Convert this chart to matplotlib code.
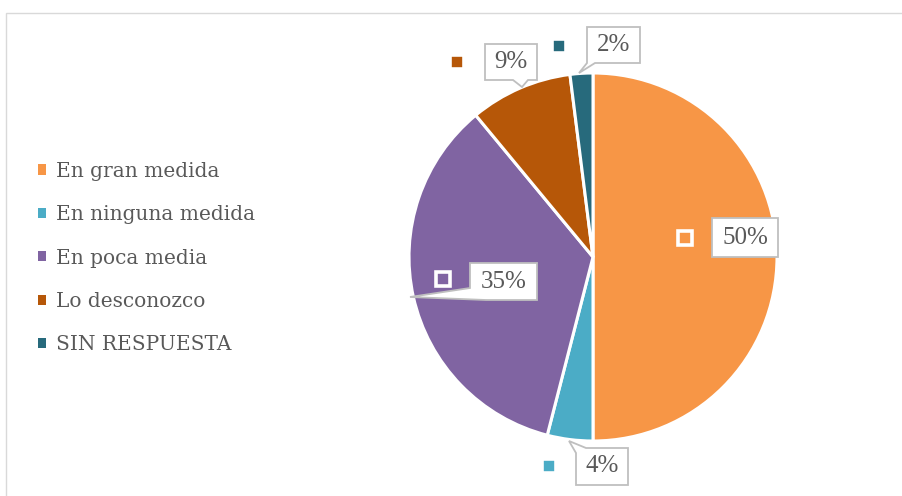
import matplotlib
matplotlib.use("Agg")
import matplotlib.pyplot as plt
import matplotlib.patches as mpatches
from matplotlib.patches import Polygon, Rectangle

# ---- data ----
categories = ["En gran medida", "En ninguna medida", "En poca media",
              "Lo desconozco", "SIN RESPUESTA"]
values = [50, 4, 35, 9, 2]
colors = ["#F79646", "#4BACC6", "#8064A2", "#B65708", "#276A7C"]

# ---- layout (pixel coordinates, y measured from top) ----
W, H = 902, 496
def Y(y):
    return H - y

pie_center = (593, 257)
pie_radius = 184

label_boxes = [
    (712, 218, 778, 257),
    (576, 448, 628, 485),
    (470, 263, 537, 300),
    (485, 44, 537, 80),
    (587, 27, 640, 63),
]
label_markers = [(685, 238), (549, 466), (443, 279), (457, 62), (559, 46)]
TEXT = "#595959"
BOX_EDGE = "#BFBFBF"

fig = plt.figure(figsize=(W / 100, H / 100), dpi=100)
ax = fig.add_axes([0, 0, 1, 1])

wedges, _ = ax.pie(values, colors=colors, startangle=90, counterclock=False,
                   center=(pie_center[0], Y(pie_center[1])), radius=pie_radius,
                   wedgeprops=dict(edgecolor="white", linewidth=2.2))
ax.set_xlim(0, W)
ax.set_ylim(0, H)
ax.set_aspect("equal")
ax.axis("off")

# outer chart frame
ax.add_patch(Rectangle((5.5, -20), W + 20, Y(12.5) + 20, fill=False,
                       edgecolor="#D9D9D9", linewidth=1.0, clip_on=False))

def callout(box, idx):
    x0, y0, x1, y1 = box
    if idx == 0:
        pts = [(x0, y0), (x1, y0), (x1, y1), (x0, y1)]
    elif idx == 1:
        pts = [(x0, y1), (x0, 453), (569, 441), (586, y0), (x1, y0), (x1, y1)]
    elif idx == 2:
        pts = [(x0, y0), (x1, y0), (x1, y1), (486, y1), (410, 297), (x0, 288)]
    elif idx == 3:
        pts = [(x0, y0), (x1, y0), (x1, y1), (528, y1), (522, 87), (513, y1), (x0, y1)]
    else:
        pts = [(x0, y0), (x1, y0), (x1, y1), (595, y1), (579, 73), (x0, y1)]
    return [(px, Y(py)) for px, py in pts]

for i, (v, box, mk, c) in enumerate(zip(values, label_boxes, label_markers, colors)):
    ax.add_patch(Polygon(callout(box, i), closed=True, facecolor="white",
                         edgecolor=BOX_EDGE, linewidth=1.3, joinstyle="miter", zorder=5))
    cx = (box[0] + box[2]) / 2
    cy = (box[1] + box[3]) / 2
    ax.text(cx, Y(cy), f"{v}%", ha="center", va="center", fontsize=18,
            family=["Liberation Serif", "DejaVu Serif"], color=TEXT, zorder=6)
    ax.plot([mk[0]], [Y(mk[1])], marker="s", markersize=9.6, markerfacecolor=c,
            markeredgecolor="white", markeredgewidth=2.6, linestyle="none", zorder=6)

# legend
handles = [mpatches.Patch(facecolor=c, edgecolor="none") for c in colors]
ax.legend(handles, categories, loc="center left",
          bbox_to_anchor=(38, Y(258)), bbox_transform=ax.transData,
          frameon=False, prop={"family": "DejaVu Serif", "size": 14.5},
          labelcolor=TEXT, handlelength=0.4, handleheight=0.4,
          handletextpad=0.5, labelspacing=1.21, borderpad=0, borderaxespad=0)

fig.savefig("out.png", dpi=100)
